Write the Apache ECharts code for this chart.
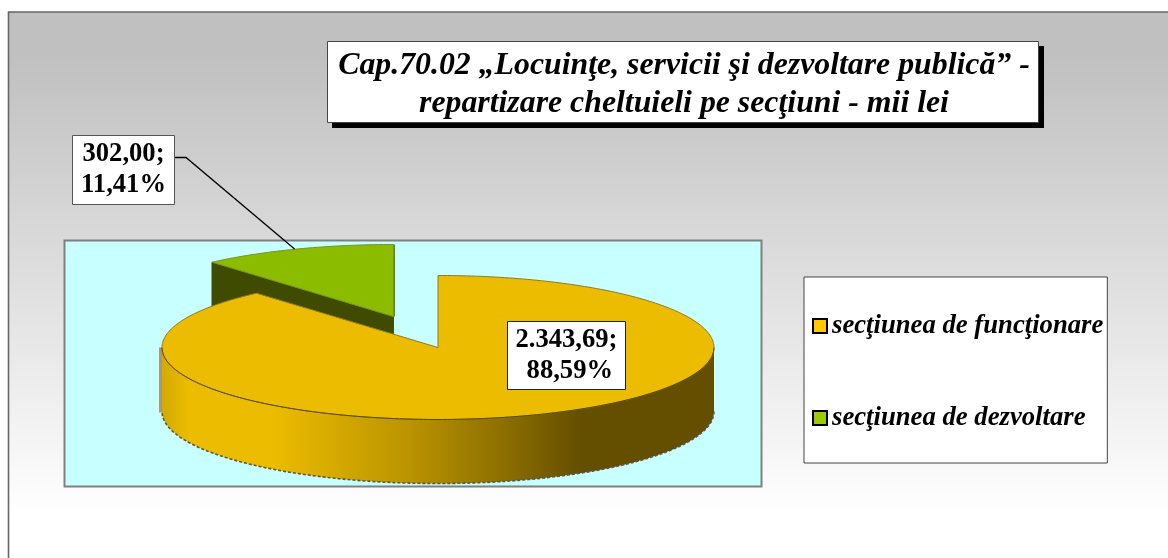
<!DOCTYPE html>
<html><head><meta charset="utf-8">
<style>html,body{margin:0;padding:0;background:#fff}#c{width:1168px;height:558px}</style>
<script src="https://cdn.jsdelivr.net/npm/echarts@6/dist/echarts.min.js"></script>
</head><body><div id="c"></div>
<script>
const categories = ['secţiunea de funcţionare', 'secţiunea de dezvoltare'];
const values = [2343.69, 302.00];
const valueLabels = ['2.343,69;\n 88,59%', '302,00;\n11,41%'];
const titleLines = ['Cap.70.02 „Locuinţe, servicii şi dezvoltare publică” -', 'repartizare cheltuieli pe secţiuni - mii lei'];

const total = values.reduce((a, b) => a + b, 0);
const PIE = {cx: 438, cy: 347.5, rx: 276, ry: 72, depth: 64, explode: 0.46};
const TOPS = ['#ecbc00', '#8cbc00'];
const WALL_GREEN = '#3f4c00';
const FONT = '"Liberation Serif","Times New Roman",serif';

function pt(cx, cy, deg, dy) {
  const a = deg * Math.PI / 180;
  return [cx + PIE.rx * Math.sin(a), cy - PIE.ry * Math.cos(a) + (dy || 0)];
}
function arc(cx, cy, from, to, dy) {
  const out = [];
  for (let d = from; d < to; d += 1) out.push(pt(cx, cy, d, dy));
  out.push(pt(cx, cy, to, dy));
  return out;
}
function sliceAngles(i) {
  let s = 0;
  for (let k = 0; k < i; k++) s += values[k];
  return [s / total * 360, (s + values[i]) / total * 360];
}
function renderSlice(i) {
  const [a0, a1] = sliceAngles(i);
  const mid = (a0 + a1) / 2 * Math.PI / 180;
  const ex = i === 1 ? PIE.explode : 0;
  const cx = PIE.cx + PIE.rx * ex * Math.sin(mid);
  const cy = PIE.cy - PIE.ry * ex * Math.cos(mid);
  const children = [];
  if (i === 0) {
    const f0 = Math.max(a0, 90), f1 = Math.min(a1, 270);
    const upper = arc(cx, cy, f0, f1, 0);
    const lower = arc(cx, cy, f0, f1, PIE.depth);
    children.push({type: 'rect', shape: {x: cx - PIE.rx - 3, y: cy, width: 4, height: PIE.depth + 1},
      style: {fill: '#a89a68'}});
    children.push({type: 'polygon', shape: {points: upper.concat(lower.slice().reverse())},
      style: {fill: new echarts.graphic.LinearGradient(0, 0, 1, 0, [
          {offset: 0, color: '#d4aa00'}, {offset: 0.05, color: '#ecbc00'},
          {offset: 0.2, color: '#ecbc00'}, {offset: 0.45, color: '#ba9300'},
          {offset: 0.62, color: '#8c6e00'}, {offset: 0.76, color: '#644e00'},
          {offset: 1, color: '#644e00'}])}});
    children.push({type: 'polyline', shape: {points: lower},
      style: {stroke: '#5c5640', lineWidth: 1.6, lineDash: [3, 2], fill: null}});
  } else {
    const pA = pt(cx, cy, a0), pC = [cx, cy];
    children.push({type: 'polygon', shape: {points: [pA, pC, [cx, cy + PIE.depth], [pA[0], pA[1] + PIE.depth]]},
      style: {fill: WALL_GREEN, stroke: WALL_GREEN, lineWidth: 1}});
    const pB = pt(cx, cy, a1);
    children.push({type: 'polygon', shape: {points: [pC, pB, [cx + 1.5, pB[1]], [cx + 1.5, cy]]},
      style: {fill: '#5f7a00'}});
  }
  const top = [[cx, cy]].concat(arc(cx, cy, a0, a1, 0));
  children.push({type: 'polygon', shape: {points: top},
    style: {fill: TOPS[i], stroke: i === 0 ? '#8f7a20' : '#7a9420', lineWidth: 1}});
  if (i === 0) {
    children.push({type: 'polyline', shape: {points: arc(cx, cy, 90, 270, 0)},
      style: {stroke: '#5a4a00', lineWidth: 1, fill: null}});
  }
  if (i === 1) {
    const rim = pt(cx, cy, (a0 + a1) / 2);
    children.push({type: 'polyline', shape: {points: [[174, 157.5], [186, 157.5], [rim[0] - 2, rim[1]]]},
      style: {stroke: '#000', lineWidth: 1.3, fill: null}});
  }
  return {type: 'group', children};
}
function renderLabels() {
  const boxes = [{x: 507.5, y: 321.5, w: 118, h: 68}, {x: 72.5, y: 135.5, w: 102, h: 69}];
  return {type: 'group', children: boxes.map((b, i) => ({
    type: 'group', children: [
      {type: 'rect', shape: {x: b.x, y: b.y, width: b.w, height: b.h},
        style: {fill: '#fff', stroke: i === 0 ? '#222' : '#555', lineWidth: 1}},
      {type: 'text', style: {x: b.x + b.w / 2, y: b.y + b.h / 2, text: valueLabels[i], align: 'center',
        verticalAlign: 'middle', fontFamily: FONT, fontWeight: 'bold', fontSize: 26.6, lineHeight: 31, fill: '#000'}}
    ]}))};
}

const chart = echarts.init(document.getElementById('c'));
chart.setOption({
  animation: false,
  backgroundColor: '#fff',
  title: {
    text: titleLines.join('\n'),
    left: 684, top: 47, padding: 0,
    textAlign: 'center',
    textStyle: {fontFamily: FONT, fontWeight: 'bold', fontStyle: 'italic', fontSize: 31.8, lineHeight: 38, color: '#000', align: 'center'}
  },
  legend: {
    orient: 'vertical', left: 804, top: 277,
    padding: [35, 4, 31, 8],
    backgroundColor: '#fff', borderColor: '#444', borderWidth: 1, borderRadius: 0,
    itemWidth: 14, itemHeight: 14, itemGap: 64, selectedMode: false,
    icon: 'rect',
    textStyle: {fontFamily: FONT, fontWeight: 'bold', fontStyle: 'italic', fontSize: 26.7, color: '#000', padding: [0, 0, 0, 0], lineHeight: 28},
    data: [
      {name: categories[0], itemStyle: {color: '#ffc800', borderColor: '#000', borderWidth: 2}},
      {name: categories[1], itemStyle: {color: '#99cc00', borderColor: '#000', borderWidth: 2}}
    ]
  },
  graphic: [
    {type: 'rect', z: -10, silent: true, shape: {x: 8.5, y: 12, width: 1170, height: 560},
      style: {stroke: '#666', lineWidth: 1.6,
        fill: new echarts.graphic.LinearGradient(0, 0, 0, 1, [{offset: 0, color: '#c0c0c0'}, {offset: 0.08, color: '#c0c0c0'}, {offset: 0.9, color: '#ffffff'}, {offset: 1, color: '#ffffff'}])}},
    {type: 'rect', z: -9, silent: true, shape: {x: 64.5, y: 240.5, width: 697, height: 246},
      style: {fill: '#c8ffff', stroke: '#808080', lineWidth: 2}},
    {type: 'rect', z: -8, silent: true, shape: {x: 332, y: 46, width: 712, height: 82}, style: {fill: '#000'}},
    {type: 'rect', z: -7, silent: true, shape: {x: 327.5, y: 41.5, width: 711, height: 81}, style: {fill: '#fff', stroke: '#444', lineWidth: 1}}
  ],
  series: [
    {type: 'custom', name: categories[1], coordinateSystem: 'none', z: 2, data: [values[1]], renderItem: () => renderSlice(1), itemStyle: {color: '#99cc00'}, silent: true},
    {type: 'custom', name: categories[0], coordinateSystem: 'none', z: 3, data: [values[0]], renderItem: () => renderSlice(0), itemStyle: {color: '#ffc800'}, silent: true},
    {type: 'custom', name: 'labels', coordinateSystem: 'none', z: 4, data: [0], renderItem: renderLabels, silent: true}
  ]
});
</script></body></html>
